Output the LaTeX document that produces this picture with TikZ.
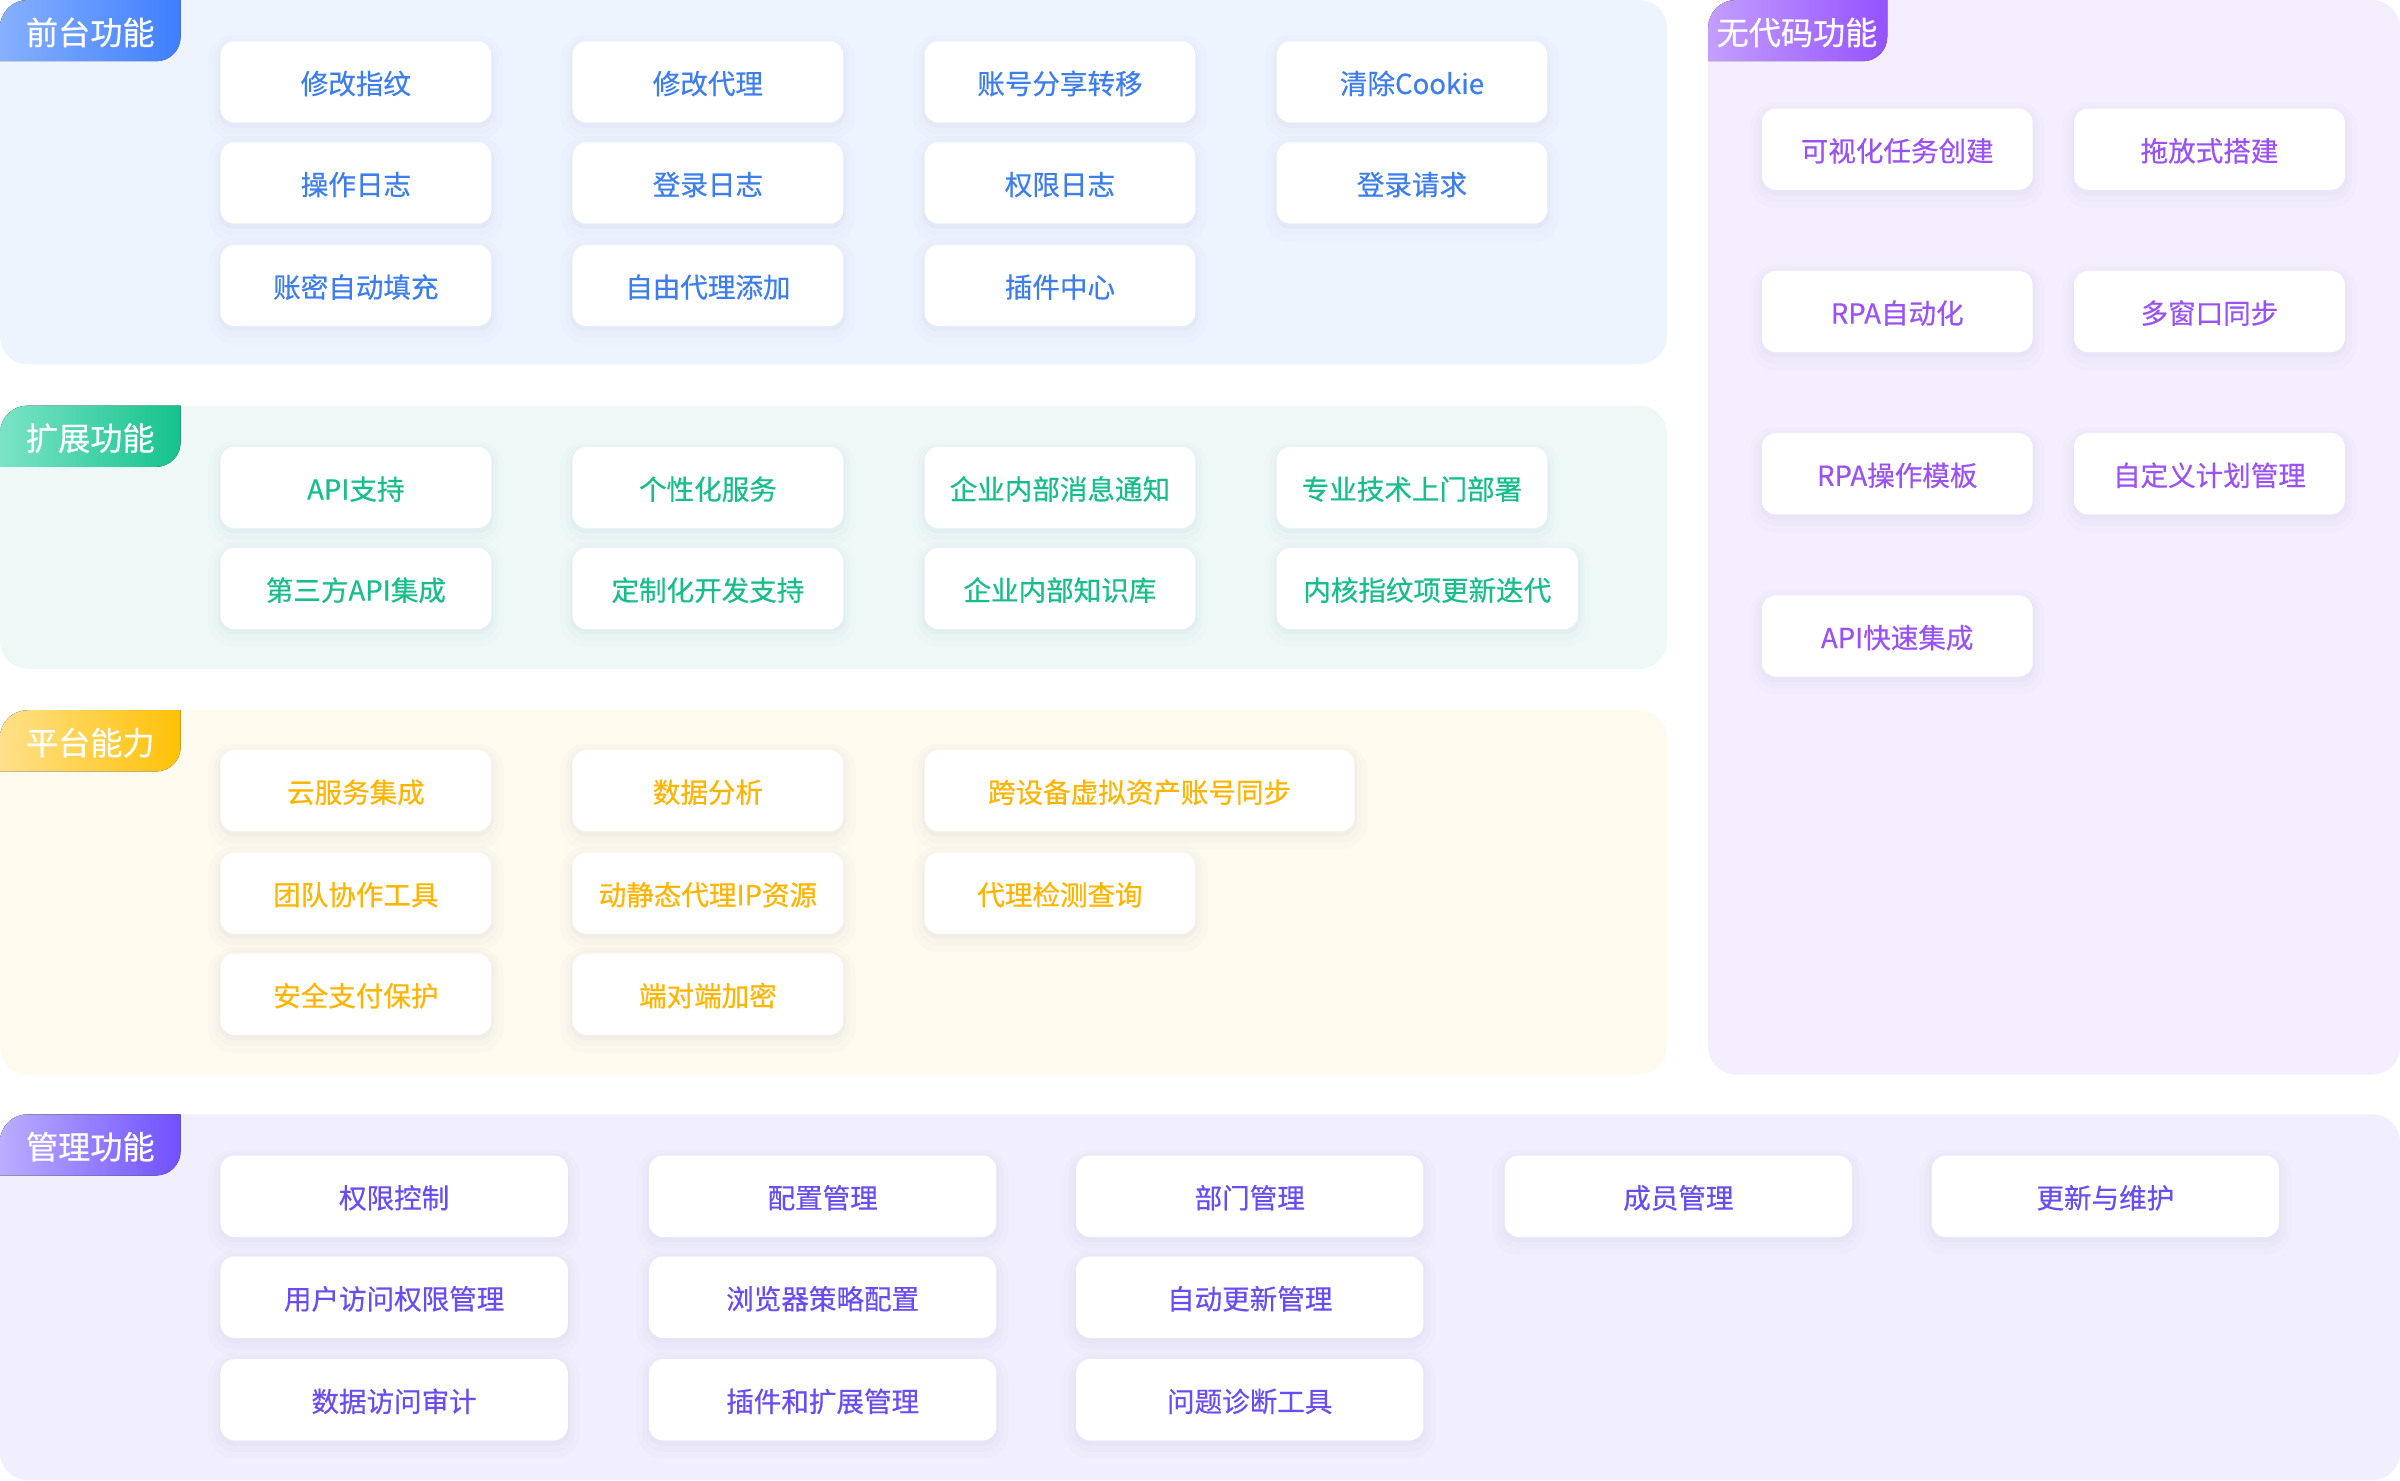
\documentclass[tikz,border=0pt]{standalone}
\usepackage{fontspec}
\setmainfont{Noto Sans CJK SC}[FakeBold=0.5]
\definecolor{fbg}{HTML}{EEF4FE}\definecolor{ftx}{HTML}{3D7EEE}\definecolor{ftl}{HTML}{93B9FF}\definecolor{ftr}{HTML}{3E7EFF}
\definecolor{ebg}{HTML}{EEF9F7}\definecolor{etx}{HTML}{17BE8B}\definecolor{etl}{HTML}{8CE9D1}\definecolor{etr}{HTML}{14C28C}
\definecolor{pbg}{HTML}{FFFAEE}\definecolor{ptx}{HTML}{FFB400}\definecolor{ptl}{HTML}{FFE6A0}\definecolor{ptr}{HTML}{FFC106}
\definecolor{nbg}{HTML}{F4EEFE}\definecolor{ntx}{HTML}{9A52F7}\definecolor{ntl}{HTML}{CCABFF}\definecolor{ntr}{HTML}{9452FF}
\definecolor{mbg}{HTML}{F1EFFD}\definecolor{mtx}{HTML}{6A4CF5}\definecolor{mtl}{HTML}{C8BDFF}\definecolor{mtr}{HTML}{7050FF}
\definecolor{shc}{HTML}{7A86B8}
\tikzset{
  cellbox/.style={fill=white, rounded corners=9pt, inner sep=0pt,
    minimum height=53pt, text height=17pt, text depth=1.2pt,
    font=\fontsize{18}{20}\selectfont,
    preaction={draw=shc, line width=16pt, draw opacity=0.018, transform canvas={yshift=-4pt}},
    preaction={draw=shc, line width=9pt, draw opacity=0.025, transform canvas={yshift=-3pt}},
    preaction={draw=shc, line width=3pt, draw opacity=0.04, transform canvas={yshift=-2pt}}},
  tagtext/.style={text=white, inner sep=0pt, text height=17pt, text depth=1.6pt,
    font=\fontsize{21}{23}\selectfont}
}
\newcommand\mybox[6]{\node[cellbox,text=#1,minimum width=#5pt] (#2) at ({#3+#5/2},{#4+26.5}) {#6};}
\newcommand\mypanel[8]{%
  % #1 bg, #2 tag left, #3 tag right, #4 x0, #5 y0, #6 x1, #7 y1, #8 tag width
  \fill[#1, rounded corners=18pt] (#4,#5) rectangle (#6,#7);
  \begin{scope}
    \clip[rounded corners=18pt] (#4,#5) rectangle (#6,#7);
    \fill[left color=#2, right color=#3, rounded corners=16pt] ({#4-20},{#5-20}) rectangle ({#4+#8},{#5+40});
  \end{scope}}
\begin{document}
\begin{tikzpicture}[x=1pt,y=-1pt]
\useasboundingbox (0,0) rectangle (1568,967);
\fill[white] (0,0) rectangle (1568,967);

% ---------- panels ----------
\mypanel{fbg}{ftl}{ftr}{0}{0}{1089}{238}{118}
\node[tagtext] (tagf) at (59,21.5) {前台功能};
\mypanel{ebg}{etl}{etr}{0}{265}{1089}{437}{118}
\node[tagtext] (tage) at (59,286.5) {扩展功能};
\mypanel{pbg}{ptl}{ptr}{0}{464}{1089}{702}{118}
\node[tagtext] (tagp) at (59,485.5) {平台能力};
\mypanel{nbg}{ntl}{ntr}{1116}{0}{1568}{702}{117}
\node[tagtext] (tagn) at (1174,21.5) {无代码功能};
\mypanel{mbg}{mtl}{mtr}{0}{728}{1568}{967}{118}
\node[tagtext] (tagm) at (59,749.5) {管理功能};

% ---------- 前台功能 ----------
\mybox{ftx}{f11}{144}{27}{177}{修改指纹}
\mybox{ftx}{f12}{374}{27}{177}{修改代理}
\mybox{ftx}{f13}{604}{27}{177}{账号分享转移}
\mybox{ftx}{f14}{834}{27}{177}{清除Cookie}
\mybox{ftx}{f21}{144}{93}{177}{操作日志}
\mybox{ftx}{f22}{374}{93}{177}{登录日志}
\mybox{ftx}{f23}{604}{93}{177}{权限日志}
\mybox{ftx}{f24}{834}{93}{177}{登录请求}
\mybox{ftx}{f31}{144}{160}{177}{账密自动填充}
\mybox{ftx}{f32}{374}{160}{177}{自由代理添加}
\mybox{ftx}{f33}{604}{160}{177}{插件中心}

% ---------- 扩展功能 ----------
\mybox{etx}{e11}{144}{292}{177}{API支持}
\mybox{etx}{e12}{374}{292}{177}{个性化服务}
\mybox{etx}{e13}{604}{292}{177}{企业内部消息通知}
\mybox{etx}{e14}{834}{292}{177}{专业技术上门部署}
\mybox{etx}{e21}{144}{358}{177}{第三方API集成}
\mybox{etx}{e22}{374}{358}{177}{定制化开发支持}
\mybox{etx}{e23}{604}{358}{177}{企业内部知识库}
\mybox{etx}{e24}{834}{358}{197}{内核指纹项更新迭代}

% ---------- 平台能力 ----------
\mybox{ptx}{p11}{144}{490}{177}{云服务集成}
\mybox{ptx}{p12}{374}{490}{177}{数据分析}
\mybox{ptx}{p13}{604}{490}{281}{跨设备虚拟资产账号同步}
\mybox{ptx}{p21}{144}{557}{177}{团队协作工具}
\mybox{ptx}{p22}{374}{557}{177}{动静态代理IP资源}
\mybox{ptx}{p23}{604}{557}{177}{代理检测查询}
\mybox{ptx}{p31}{144}{623}{177}{安全支付保护}
\mybox{ptx}{p32}{374}{623}{177}{端对端加密}

% ---------- 无代码功能 ----------
\mybox{ntx}{n11}{1151}{71}{177}{可视化任务创建}
\mybox{ntx}{n12}{1355}{71}{177}{拖放式搭建}
\mybox{ntx}{n21}{1151}{177}{177}{RPA自动化}
\mybox{ntx}{n22}{1355}{177}{177}{多窗口同步}
\mybox{ntx}{n31}{1151}{283}{177}{RPA操作模板}
\mybox{ntx}{n32}{1355}{283}{177}{自定义计划管理}
\mybox{ntx}{n41}{1151}{389}{177}{API快速集成}

% ---------- 管理功能 ----------
\mybox{mtx}{m11}{144}{755}{227}{权限控制}
\mybox{mtx}{m12}{424}{755}{227}{配置管理}
\mybox{mtx}{m13}{703}{755}{227}{部门管理}
\mybox{mtx}{m14}{983}{755}{227}{成员管理}
\mybox{mtx}{m15}{1262}{755}{227}{更新与维护}
\mybox{mtx}{m21}{144}{821}{227}{用户访问权限管理}
\mybox{mtx}{m22}{424}{821}{227}{浏览器策略配置}
\mybox{mtx}{m23}{703}{821}{227}{自动更新管理}
\mybox{mtx}{m31}{144}{888}{227}{数据访问审计}
\mybox{mtx}{m32}{424}{888}{227}{插件和扩展管理}
\mybox{mtx}{m33}{703}{888}{227}{问题诊断工具}
\end{tikzpicture}
\end{document}
